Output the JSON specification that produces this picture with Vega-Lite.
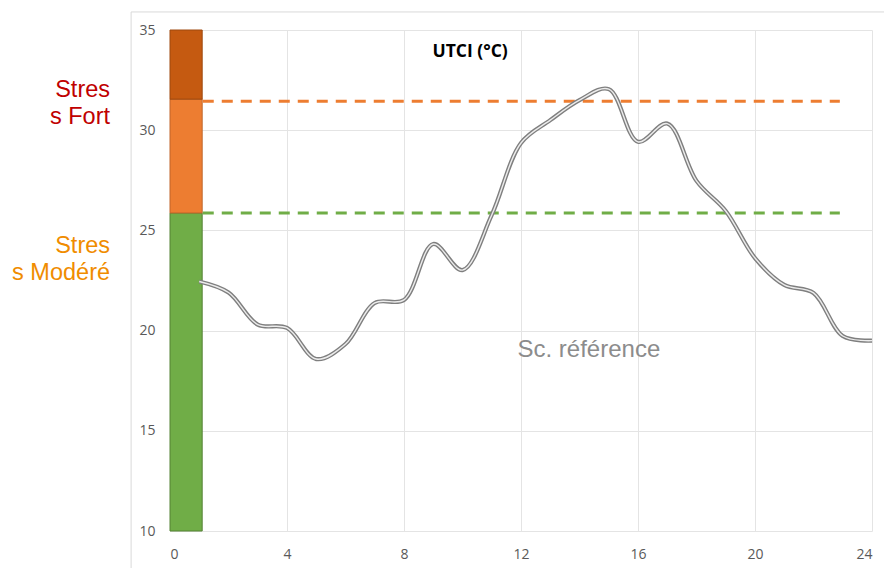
{
  "$schema": "https://vega.github.io/schema/vega-lite/v6.json",
  "width": 702,
  "height": 501,
  "autosize": {"type": "none"},
  "padding": {"left": 170, "top": 30, "right": 12, "bottom": 37},
  "background": "white",
  "config": {
    "view": {"stroke": null},
    "axis": {"grid": true, "gridColor": "#e4e4e4", "gridWidth": 1, "domain": false, "ticks": false, "labelFont": "Open Sans", "labelFontSize": 14, "labelColor": "#595959", "title": null}
  },
  "datasets": {
    "utci": [
      {"h": 1, "v": 22.45}, {"h": 2, "v": 21.9}, {"h": 3, "v": 20.3}, {"h": 4, "v": 20.13},
      {"h": 5, "v": 18.58}, {"h": 6, "v": 19.33}, {"h": 7, "v": 21.38}, {"h": 8, "v": 21.53},
      {"h": 9, "v": 24.32}, {"h": 10, "v": 23.02}, {"h": 11, "v": 25.77}, {"h": 12, "v": 29.36},
      {"h": 13, "v": 30.5}, {"h": 14, "v": 31.5}, {"h": 15, "v": 32.05}, {"h": 16, "v": 29.42},
      {"h": 17, "v": 30.33}, {"h": 18, "v": 27.47}, {"h": 19, "v": 25.97}, {"h": 20, "v": 23.62},
      {"h": 21, "v": 22.28}, {"h": 22, "v": 21.88}, {"h": 23, "v": 19.73}, {"h": 24, "v": 19.5}
    ]
  },
  "layer": [
    {
      "data": {"values": [
        {"x": -1.33, "x2": -1.33, "y": 8.1, "y2": 35.9},
        {"x": -1.33, "x2": 24.5, "y": 35.9, "y2": 35.9}
      ]},
      "mark": {"type": "rule", "color": "#d9d9d9", "strokeWidth": 1},
      "encoding": {
        "x": {"field": "x", "type": "quantitative", "scale": {"domain": [0, 24], "nice": false, "zero": false}, "axis": {"values": [0, 4, 8, 12, 16, 20, 24], "labelPadding": 16}},
        "x2": {"field": "x2"},
        "y": {"field": "y", "type": "quantitative", "scale": {"domain": [10, 35], "nice": false, "zero": false}, "axis": {"values": [10, 15, 20, 25, 30, 35], "labelPadding": 15}},
        "y2": {"field": "y2"}
      }
    },
    {
      "data": {"values": [
        {"x": 0, "x2": 1.1, "y": 10, "y2": 25.87, "zone": "vert"},
        {"x": 0, "x2": 1.1, "y": 25.87, "y2": 31.55, "zone": "orange"},
        {"x": 0, "x2": 1.1, "y": 31.55, "y2": 35, "zone": "brun"}
      ]},
      "mark": {"type": "rect", "strokeWidth": 1},
      "encoding": {
        "x": {"field": "x", "type": "quantitative"},
        "x2": {"field": "x2"},
        "y": {"field": "y", "type": "quantitative"},
        "y2": {"field": "y2"},
        "fill": {"field": "zone", "type": "nominal", "scale": {"domain": ["vert", "orange", "brun"], "range": ["#70AD47", "#ED7D31", "#C55A11"]}, "legend": null},
        "stroke": {"field": "zone", "type": "nominal", "scale": {"domain": ["vert", "orange", "brun"], "range": ["#548235", "#C0652A", "#9E480E"]}, "legend": null}
      }
    },
    {
      "data": {"values": [
        {"x": 1.12, "x2": 22.9, "y": 31.45, "seuil": "orange"},
        {"x": 1.12, "x2": 22.9, "y": 25.87, "seuil": "vert"}
      ]},
      "mark": {"type": "rule", "strokeWidth": 3, "strokeDash": [11, 8]},
      "encoding": {
        "x": {"field": "x", "type": "quantitative"},
        "x2": {"field": "x2"},
        "y": {"field": "y", "type": "quantitative"},
        "color": {"field": "seuil", "type": "nominal", "scale": {"domain": ["orange", "vert"], "range": ["#ED7D31", "#70AD47"]}, "legend": null}
      }
    },
    {
      "data": {"name": "utci"},
      "mark": {"type": "line", "interpolate": "catmull-rom", "color": "#7f7f7f", "strokeWidth": 4.2},
      "encoding": {
        "x": {"field": "h", "type": "quantitative"},
        "y": {"field": "v", "type": "quantitative"}
      }
    },
    {
      "data": {"name": "utci"},
      "mark": {"type": "line", "interpolate": "catmull-rom", "color": "#ececec", "strokeWidth": 1.4},
      "encoding": {
        "x": {"field": "h", "type": "quantitative"},
        "y": {"field": "v", "type": "quantitative"}
      }
    },
    {
      "data": {"values": [{"x": -2.05, "y": 31.64, "t": ["Stres", "s Fort"]}]},
      "mark": {"type": "text", "align": "right", "baseline": "alphabetic", "font": "Liberation Sans", "fontSize": 23.5, "lineHeight": 27, "color": "#C00000"},
      "encoding": {
        "x": {"field": "x", "type": "quantitative"},
        "y": {"field": "y", "type": "quantitative"},
        "text": {"field": "t"}
      }
    },
    {
      "data": {"values": [{"x": -2.05, "y": 23.87, "t": ["Stres", "s Modéré"]}]},
      "mark": {"type": "text", "align": "right", "baseline": "alphabetic", "font": "Liberation Sans", "fontSize": 23.5, "lineHeight": 27, "color": "#F08C00"},
      "encoding": {
        "x": {"field": "x", "type": "quantitative"},
        "y": {"field": "y", "type": "quantitative"},
        "text": {"field": "t"}
      }
    },
    {
      "data": {"values": [{"x": 10.26, "y": 33.67, "t": "UTCI (°C)"}]},
      "mark": {"type": "text", "align": "center", "baseline": "alphabetic", "font": "Open Sans", "fontWeight": "bold", "fontSize": 17.5, "color": "#000000"},
      "encoding": {
        "x": {"field": "x", "type": "quantitative"},
        "y": {"field": "y", "type": "quantitative"},
        "text": {"field": "t"}
      }
    },
    {
      "data": {"values": [{"x": 14.32, "y": 18.7, "t": "Sc. référence"}]},
      "mark": {"type": "text", "align": "center", "baseline": "alphabetic", "font": "Liberation Sans", "fontSize": 24, "color": "#8c8c8c"},
      "encoding": {
        "x": {"field": "x", "type": "quantitative"},
        "y": {"field": "y", "type": "quantitative"},
        "text": {"field": "t"}
      }
    }
  ]
}
